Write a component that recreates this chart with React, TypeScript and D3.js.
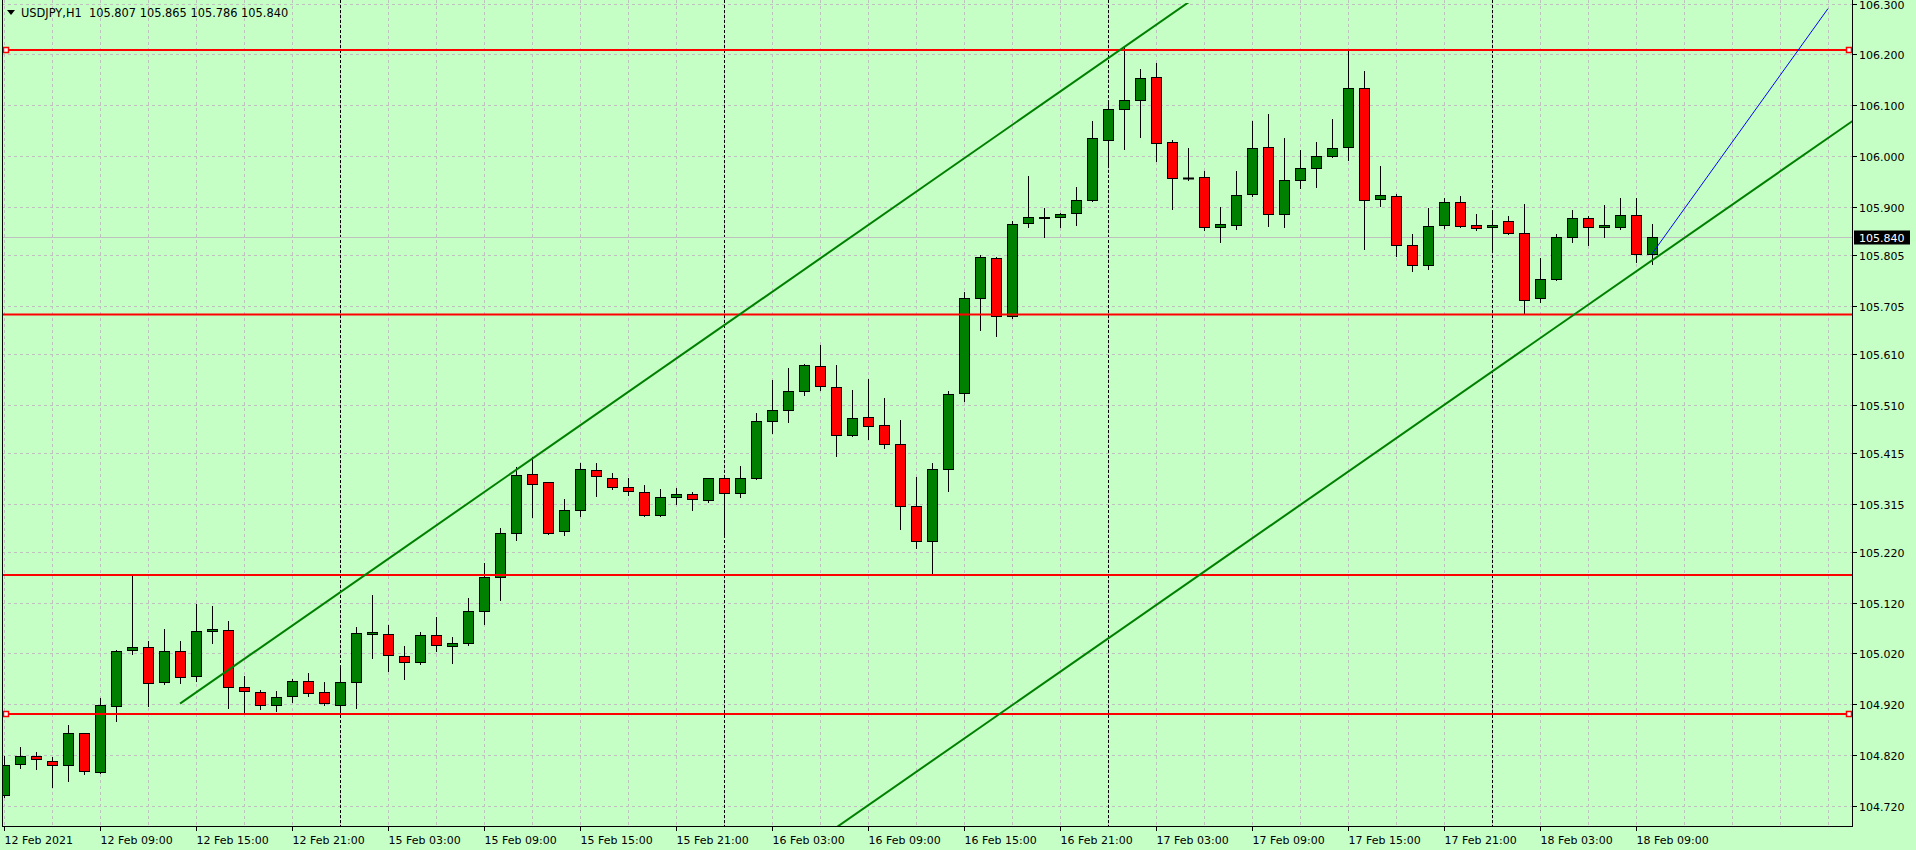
import React from 'react';
import * as d3 from 'd3';

const opens = [104.742,104.802,104.817,104.809,104.800,104.863,104.786,104.916,105.026,105.032,104.963,105.024,104.975,105.064,105.066,104.953,104.943,104.918,104.936,104.965,104.943,104.918,104.963,105.058,105.058,105.014,105.004,105.056,105.034,105.040,105.104,105.170,105.257,105.373,105.357,105.261,105.302,105.381,105.365,105.347,105.337,105.292,105.328,105.333,105.322,105.365,105.335,105.365,105.477,105.499,105.536,105.586,105.544,105.450,105.485,105.469,105.432,105.310,105.241,105.383,105.532,105.719,105.798,105.684,105.867,105.878,105.879,105.887,105.913,106.031,106.092,106.109,106.155,106.027,105.956,105.958,105.859,105.863,105.924,106.017,105.885,105.952,105.976,105.999,106.017,106.133,105.914,105.920,105.824,105.784,105.863,105.909,105.863,105.859,105.871,105.848,105.719,105.757,105.840,105.877,105.859,105.859,105.883,105.807];
const highs = [104.817,104.835,104.825,104.815,104.879,104.864,104.932,105.027,105.174,105.044,105.069,105.044,105.118,105.113,105.084,104.976,104.947,104.945,104.969,104.981,104.963,104.991,105.071,105.135,105.075,105.035,105.062,105.092,105.052,105.129,105.198,105.266,105.387,105.407,105.358,105.324,105.394,105.394,105.375,105.365,105.351,105.343,105.345,105.337,105.366,105.366,105.389,105.493,105.559,105.582,105.589,105.627,105.588,105.539,105.561,105.523,105.479,105.367,105.395,105.536,105.731,105.804,105.800,105.871,105.960,105.897,105.887,105.939,106.069,106.104,106.216,106.171,106.183,106.031,106.015,105.970,105.899,105.970,106.069,106.082,106.035,106.011,106.027,106.072,106.209,106.167,105.979,105.925,105.846,105.897,105.916,105.920,105.885,105.889,105.881,105.905,105.798,105.846,105.893,105.881,105.903,105.916,105.916,105.865];
const lows = [104.737,104.795,104.792,104.757,104.769,104.782,104.784,104.887,105.019,104.917,104.959,104.961,104.966,105.040,104.913,104.902,104.910,104.907,104.925,104.936,104.918,104.902,104.913,105.010,104.986,104.970,105.000,105.025,105.002,105.037,105.077,105.125,105.243,105.289,105.256,105.254,105.291,105.329,105.343,105.331,105.290,105.290,105.314,105.302,105.318,105.255,105.328,105.364,105.455,105.475,105.528,105.538,105.409,105.448,105.442,105.424,105.264,105.227,105.174,105.339,105.517,105.656,105.645,105.680,105.859,105.840,105.859,105.864,105.911,105.979,106.013,106.038,105.990,105.896,105.952,105.853,105.830,105.855,105.920,105.861,105.859,105.936,105.938,105.997,105.991,105.816,105.901,105.802,105.773,105.777,105.857,105.859,105.853,105.814,105.846,105.690,105.712,105.755,105.830,105.824,105.840,105.855,105.790,105.786];
const closes = [104.800,104.817,104.811,104.800,104.863,104.788,104.918,105.024,105.032,104.961,105.024,104.973,105.064,105.068,104.953,104.945,104.918,104.934,104.965,104.941,104.922,104.963,105.060,105.062,105.016,105.004,105.056,105.036,105.040,105.104,105.170,105.257,105.371,105.353,105.257,105.302,105.383,105.369,105.347,105.339,105.292,105.328,105.333,105.324,105.365,105.335,105.365,105.477,105.499,105.536,105.588,105.546,105.450,105.483,105.467,105.432,105.310,105.241,105.383,105.530,105.719,105.800,105.684,105.865,105.879,105.879,105.885,105.913,106.035,106.092,106.109,106.153,106.025,105.956,105.956,105.859,105.865,105.922,106.015,105.885,105.952,105.976,105.999,106.015,106.133,105.913,105.922,105.824,105.784,105.861,105.909,105.861,105.857,105.863,105.848,105.717,105.757,105.840,105.877,105.859,105.863,105.883,105.806,105.840];

const timeLabels = ['12 Feb 2021','12 Feb 09:00','12 Feb 15:00','12 Feb 21:00','15 Feb 03:00','15 Feb 09:00','15 Feb 15:00','15 Feb 21:00','16 Feb 03:00','16 Feb 09:00','16 Feb 15:00','16 Feb 21:00','17 Feb 03:00','17 Feb 09:00','17 Feb 15:00','17 Feb 21:00','18 Feb 03:00','18 Feb 09:00'];
const timeLabelStep = 6;
const gridBarStep = 3;
const daySeparators = [21, 45, 69, 93];

const priceTicks = [106.3,106.2,106.1,106.0,105.9,105.805,105.705,105.61,105.51,105.415,105.315,105.22,105.12,105.02,104.92,104.82,104.72];
const priceTickLabels = ['106.300','106.200','106.100','106.000','105.900','105.805','105.705','105.610','105.510','105.415','105.315','105.220','105.120','105.020','104.920','104.820','104.720'];

const hLines = [106.2085, 105.6875, 105.1744, 104.9006];
const hLineMarked = [true, false, false, true];
const upperChannel = [{ bar: 11, price: 104.921 }, { bar: 70, price: 106.214 }];
const lowerChannel = [{ bar: 60, price: 104.852 }, { bar: 103, price: 105.794 }];
const blueLine = [{ bar: 103, price: 105.807 }, { bar: 114, price: 106.290 }];
const currentPrice = 105.84;
const header = 'USDJPY,H1  105.807 105.865 105.786 105.840';

const W = 1916, H = 850;
const L = 2, R = 1852, T = 0, B = 826;
const BG = '#c6ffc6';
const FONT = '"DejaVu Sans", Tahoma, sans-serif';

export default function App() {
  const x = d3.scaleLinear().domain([0, 1]).range([4, 20]);
  const y = d3.scaleLinear().domain([104.72, 106.3]).range([805.7, 3.5]);

  const extend = (pts: { bar: number; price: number }[], b0: number, b1: number) => {
    const s = (pts[1].price - pts[0].price) / (pts[1].bar - pts[0].bar);
    const p = (b: number) => pts[0].price + (b - pts[0].bar) * s;
    return { x1: x(b0), y1: y(p(b0)), x2: x(b1), y2: y(p(b1)) };
  };
  const up = extend(upperChannel, upperChannel[0].bar, 140);
  const lo = extend(lowerChannel, 30, 140);

  const gridBars: number[] = [];
  for (let i = 0; x(i) < R; i += gridBarStep) gridBars.push(i);

  const yc = Math.round(y(currentPrice)) + 0.5;

  return (
    <svg width={W} height={H} style={{ position: 'absolute', left: 0, top: 0, display: 'block' }}
      fontFamily={FONT} fontSize={11}>
      <defs>
        <clipPath id="plot"><rect x={L} y={T} width={R - L} height={B - T} /></clipPath>
        <clipPath id="objs"><rect x={L} y={3} width={R - L} height={B - 3} /></clipPath>
      </defs>
      <rect x={0} y={0} width={W} height={H} fill={BG} />
      <g clipPath="url(#plot)">
        {priceTicks.map((p, k) => (
          <line key={'hg' + k} x1={L} x2={R} y1={Math.round(y(p)) + 0.5} y2={Math.round(y(p)) + 0.5}
            stroke="#c0c0c0" strokeDasharray="3,3" />
        ))}
        {gridBars.map((i) => (
          <line key={'vg' + i} x1={Math.round(x(i)) + 0.5} x2={Math.round(x(i)) + 0.5} y1={T} y2={B}
            stroke="#c0c0c0" strokeDasharray="3,3" />
        ))}
        {daySeparators.map((i) => (
          <line key={'ds' + i} x1={Math.round(x(i)) + 0.5} x2={Math.round(x(i)) + 0.5} y1={T} y2={B}
            stroke="#000" strokeDasharray="3,2" />
        ))}
        <line x1={L} x2={R} y1={yc} y2={yc} stroke="#c0c0c0" />
        {opens.map((o, i) => {
          const c = closes[i];
          const cx = Math.round(x(i));
          const yh = Math.round(y(highs[i]));
          const yl = Math.round(y(lows[i]));
          const yt = Math.round(y(Math.max(o, c)));
          const yb = Math.round(y(Math.min(o, c)));
          const bull = c >= o;
          return (
            <g key={'c' + i}>
              <line x1={cx + 0.5} x2={cx + 0.5} y1={yh} y2={yl + 1} stroke="#000" />
              {yb > yt ? (
                <rect x={cx - 4.5} y={yt + 0.5} width={10} height={yb - yt}
                  fill={bull ? '#008000' : '#ff0000'} stroke="#000" />
              ) : (
                <line x1={cx - 5} x2={cx + 6} y1={yt + 0.5} y2={yt + 0.5} stroke="#000" strokeWidth={2} />
              )}
            </g>
          );
        })}
        {hLines.map((p, k) => (
          <line key={'hl' + k} x1={L} x2={R} y1={y(p)} y2={y(p)} stroke="#ff0000" strokeWidth={2} />
        ))}
      </g>
      <g clipPath="url(#objs)">
        <line {...up} stroke="#008000" strokeWidth={2} />
        <line {...lo} stroke="#008000" strokeWidth={2} />
        <line x1={x(blueLine[0].bar)} y1={y(blueLine[0].price)} x2={x(blueLine[1].bar)} y2={y(blueLine[1].price)}
          stroke="#0000ff" strokeWidth={1} />
      </g>
      {hLines.map((p, k) => hLineMarked[k] ? (
        <g key={'mk' + k}>
          <rect x={3.5} y={Math.round(y(p)) - 2.5} width={5} height={5} fill="#fff" stroke="#ff0000" strokeWidth={1.5} />
          <rect x={1846.5} y={Math.round(y(p)) - 2.5} width={5} height={5} fill="#fff" stroke="#ff0000" strokeWidth={1.5} />
        </g>
      ) : null)}
      {/* frame */}
      <line x1={L + 0.5} x2={L + 0.5} y1={T} y2={B} stroke="#000" />
      <line x1={R + 0.5} x2={R + 0.5} y1={T} y2={B + 1} stroke="#000" />
      <line x1={L} x2={R + 1} y1={B + 0.5} y2={B + 0.5} stroke="#000" />
      {/* price axis */}
      {priceTicks.map((p, k) => {
        const yy = Math.round(y(p)) + 0.5;
        return (
          <g key={'pt' + k}>
            <line x1={R + 1} x2={R + 5} y1={yy} y2={yy} stroke="#000" />
            <text x={R + 7} y={yy + 4} fill="#000">{priceTickLabels[k]}</text>
          </g>
        );
      })}
      <rect x={R + 2} y={yc - 7} width={56} height={14} fill="#000" />
      <text x={R + 7} y={yc + 4} fill="#fff">{currentPrice.toFixed(3)}</text>
      {/* time axis */}
      {timeLabels.map((t, k) => {
        const xx = Math.round(x(k * timeLabelStep)) + 0.5;
        return (
          <g key={'tl' + k}>
            <line x1={xx} x2={xx} y1={B} y2={B + 5} stroke="#000" />
            <text x={xx} y={844} fill="#000">{t}</text>
          </g>
        );
      })}
      {/* header */}
      <path d="M7,10 L15,10 L11,15 Z" fill="#000" />
      <text x={21} y={17} fill="#000" fontSize={11.4} style={{ whiteSpace: 'pre' }}>{header}</text>
    </svg>
  );
}
